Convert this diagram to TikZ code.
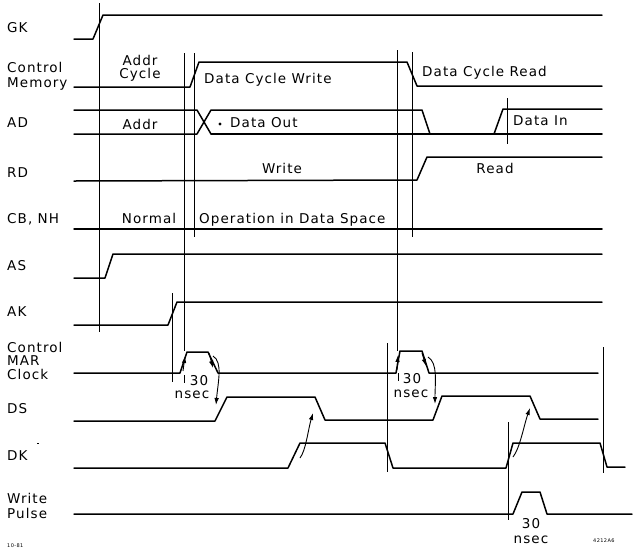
\documentclass[tikz,border=0pt]{standalone}
\usepackage{fontspec}
\setmainfont{DejaVu Sans}[LetterSpace=8]
\usetikzlibrary{arrows.meta}
\begin{document}
\begin{tikzpicture}[x=1pt,y=-1pt,
  lbl/.style={font=\fontsize{13.5}{15}\selectfont, inner sep=0pt, anchor=base west},
  clbl/.style={font=\fontsize{13.5}{15}\selectfont, inner sep=0pt, anchor=base},
  tiny/.style={font=\fontsize{5}{6}\selectfont, inner sep=0pt, anchor=base west},
  sig/.style={line width=1.5pt, line join=round, line cap=round},
  vl/.style={line width=0.8pt},
  arr/.style={line width=0.9pt, -{Latex[length=7pt,width=4.5pt]}}]
\useasboundingbox (0,0) rectangle (638,550);
\fill[white] (0,0) rectangle (638,550);
% ---- signal names
\node[lbl] (nGK) at (7,32) {GK};
\node[lbl] (nCM1) at (7,72) {Control};
\node[lbl] (nCM2) at (7,87) {Memory};
\node[lbl] (nAD) at (7,127) {AD};
\node[lbl] (nRD) at (7,177) {RD};
\node[lbl] (nCB) at (7,223) {CB, NH};
\node[lbl] (nAS) at (7,270) {AS};
\node[lbl] (nAK) at (7,316) {AK};
\node[lbl] (nMC1) at (7,352) {Control};
\node[lbl] (nMC2) at (7,365) {MAR};
\node[lbl] (nMC3) at (7,379) {Clock};
\node[lbl] (nDS) at (7,413) {DS};
\node[lbl] (nDK) at (7,460) {DK};
\draw[line width=0.6pt] (37,443) -- (39,443);
\node[lbl] (nWP1) at (7,503) {Write};
\node[lbl] (nWP2) at (7,518) {Pulse};
\node[tiny] (nDate) at (7,547) {10-81};
\node[tiny] (nFig) at (593,542) {4212A6};
% ---- in-diagram texts
\node[clbl] (tAC1) at (140,65) {Addr};
\node[clbl] (tAC2) at (140,78) {Cycle};
\node[lbl] (tDCW) at (204,83) {Data Cycle Write};
\node[lbl] (tDCR) at (422,76) {Data Cycle Read};
\node[clbl] (tAddr) at (140,129) {Addr};
\fill (220,124) circle (1.6pt);
\node[lbl] (tDO) at (230,127) {Data Out};
\node[lbl] (tDI) at (513,125) {Data In};
\node[clbl] (tW) at (282,173) {Write};
\node[clbl] (tR) at (495,173) {Read};
\node[clbl] (tN) at (149,223) {Normal};
\node[lbl] (tOp) at (199,223) {Operation in Data Space};
\node[clbl] (t30a) at (199,385) {30};
\node[clbl] (tnsa) at (192,398) {nsec};
\node[clbl] (t30b) at (412,383) {30};
\node[clbl] (tnsb) at (411,397) {nsec};
\node[clbl] (t30c) at (531,528) {30};
\node[clbl] (tnsc) at (531,543) {nsec};
% ---- vertical reference lines
\draw[vl] (99,3) -- (99,332);
\draw[vl] (184,53) -- (184,351);
\draw[vl] (194,53) -- (194,237);
\draw[vl] (397,50) -- (397,351);
\draw[vl] (412,52) -- (412,237);
\draw[vl] (172,293) -- (172,382);
\draw[vl] (507,98) -- (507,144);
\draw[vl] (387,343) -- (387,472);
\draw[vl] (508,422) -- (508,520);
\draw[vl] (603,347) -- (603,473);
\draw[vl] (184,375) -- (184,383);
\draw[vl] (398,373) -- (398,381);
% ---- waveforms
\draw[sig] (74,39) -- (93,39) -- (103,15) -- (602,15);
\draw[sig] (74,87) -- (190,87) -- (199,62) -- (407,62) -- (417,86) -- (602,86);
\draw[sig] (74,110) -- (197,110) -- (211,134);
\draw[sig] (74,134) -- (197,134) -- (211,110) -- (422,110) -- (430,134);
\draw[sig] (211,134) -- (602,134);
\draw[sig] (494,134) -- (503,109) -- (602,109);
\draw[sig] (74,181) -- (417,180) -- (427,157) -- (602,157);
\draw[sig] (74,229) -- (602,229);
\draw[sig] (74,278) -- (105,278) -- (113,254) -- (602,254);
\draw[sig] (74,325) -- (168,325) -- (177,302) -- (602,302);
\draw[sig] (74,373) -- (180,373) -- (187,352) -- (208,352) -- (218,373) -- (396,373) -- (400,351) -- (422,351) -- (429,373) -- (598,373);
\draw[sig] (74,421) -- (215,421) -- (227,397) -- (315,397) -- (325,420) -- (433,420) -- (442,396) -- (530,396) -- (540,419) -- (598,419);
\draw[sig] (74,468) -- (288,468) -- (300,443) -- (385,443) -- (393,468) -- (506,468) -- (513,443) -- (600,443) -- (607,467) -- (625,467);
\draw[sig] (74,514) -- (513,514) -- (522,492) -- (540,492) -- (547,514) -- (632,514);
% ---- causal arrows
\draw[arr] (183,371) -- (185,356);
\draw[arr] (209,353) -- (213,368);
\draw[arr] (213,356) .. controls (223,362) and (218,382) .. (216,405);
\draw[arr] (397,370) -- (398,355);
\draw[arr] (422,353) -- (426,366);
\draw[arr] (428,357) .. controls (438,363) and (435,382) .. (435,404);
\draw[arr] (300,458) .. controls (306,450) and (308,430) .. (313,413);
\draw[arr] (513,457) .. controls (520,448) and (524,425) .. (530,408);
\end{tikzpicture}
\end{document}
